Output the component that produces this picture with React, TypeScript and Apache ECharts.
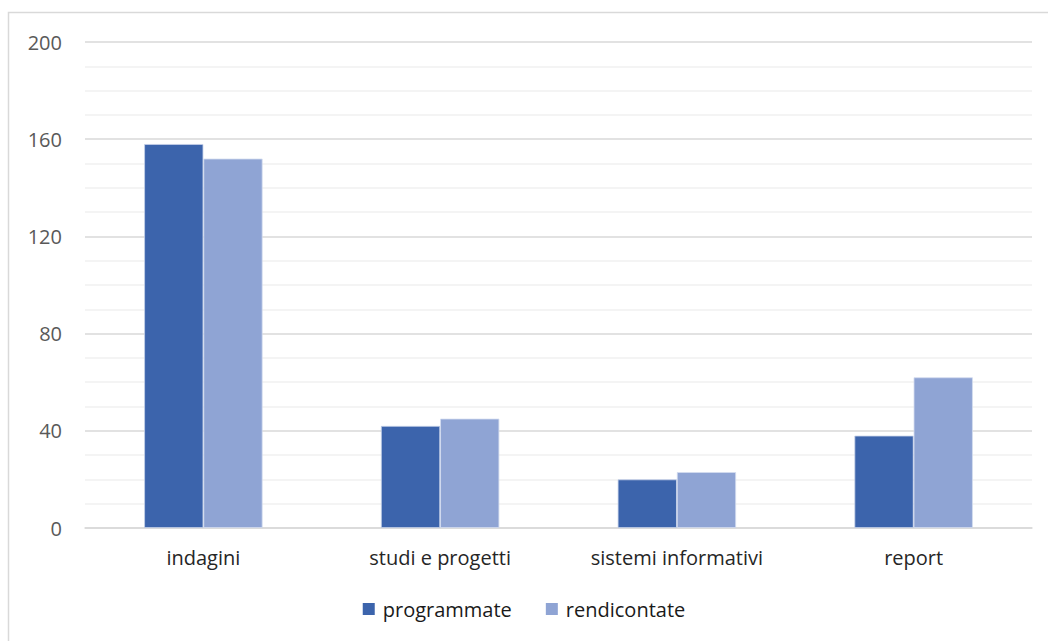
import React, { useEffect, useRef } from "react";
import * as echarts from "echarts";

const categories = ["indagini", "studi e progetti", "sistemi informativi", "report"];
const programmate = [158, 42, 20, 38];
const rendicontate = [152, 45, 23, 62];
const seriesNames = ["programmate", "rendicontate"];
const yLabelValues = [0, 40, 80, 120, 160, 200];

const FONT = "'Open Sans', 'Noto Sans', sans-serif";

export default function App() {
  const ref = useRef<HTMLDivElement>(null);
  useEffect(() => {
    if (!ref.current) return;
    const chart = echarts.init(ref.current, null, { renderer: "svg" });
    chart.setOption({
      animation: false,
      backgroundColor: "#ffffff",
      textStyle: { fontFamily: FONT },
      graphic: [
        {
          type: "rect",
          shape: { x: 8.5, y: 12.5, width: 1100, height: 700 },
          style: { fill: "none", stroke: "#d9d9d9", lineWidth: 1.5 },
          silent: true,
        },
      ],
      grid: { left: 85, right: 16, top: 42, bottom: 113, containLabel: false },
      legend: {
        data: seriesNames,
        bottom: 17,
        left: "center",
        icon: "rect",
        itemWidth: 12,
        itemHeight: 12,
        itemGap: 34,
        itemStyle: { borderWidth: 0 },
        textStyle: { fontFamily: FONT, fontSize: 20, color: "#1a1a1a", padding: [0, 0, 0, 3] },
      },
      xAxis: {
        type: "category",
        data: categories,
        axisLine: { lineStyle: { color: "#d9d9d9", width: 1.5 } },
        axisTick: { show: false },
        axisLabel: { fontFamily: FONT, fontSize: 20, color: "#262626", margin: 19 },
      },
      yAxis: {
        type: "value",
        min: 0,
        max: 200,
        interval: 10,
        axisLine: { show: false },
        axisTick: { show: false },
        axisLabel: {
          fontFamily: FONT,
          fontSize: 20,
          color: "#595959",
          margin: 23,
          formatter: (v: number) => (yLabelValues.includes(v) ? String(v) : ""),
        },
        splitLine: {
          lineStyle: {
            color: ["#d9d9d9", "#f0f0f0", "#f0f0f0", "#f0f0f0"],
            width: 1.5,
          },
        },
      },
      series: [
        {
          name: seriesNames[0],
          type: "bar",
          data: programmate,
          barWidth: "25%",
          barGap: "0%",
          itemStyle: { color: "#3c64ac", borderColor: "#c5d0e8", borderWidth: 0.8 },
        },
        {
          name: seriesNames[1],
          type: "bar",
          data: rendicontate,
          barWidth: "25%",
          barGap: "0%",
          itemStyle: { color: "#8fa4d4", borderColor: "#d3dcef", borderWidth: 0.8 },
        },
      ],
    });
    return () => chart.dispose();
  }, []);
  return (
    <div
      ref={ref}
      style={{ position: "fixed", left: 0, top: 0, width: 1048, height: 641 }}
    />
  );
}
